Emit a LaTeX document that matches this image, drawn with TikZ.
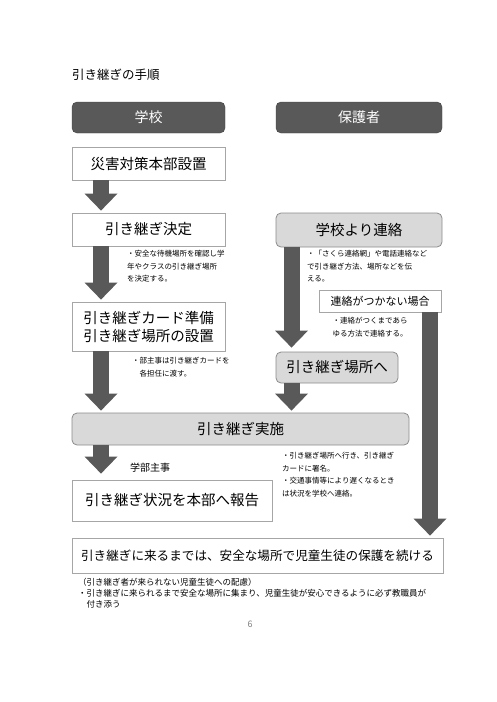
\documentclass[tikz,border=0pt]{standalone}
\usepackage{fontspec}
\setmainfont{Noto Sans CJK JP}
\usepackage{tikz}
\usetikzlibrary{arrows.meta}

\definecolor{dark}{HTML}{595959}
\definecolor{light}{HTML}{D9D9D9}
\definecolor{rim}{HTML}{A6A6A6}

\begin{document}
\begin{tikzpicture}[x=1pt, y=-1pt]
	\tikzset{head/.style = {shape=rectangle, rounded corners=5pt, draw=black!75, fill=dark, text=white, minimum height=31pt, inner sep=0pt, font=\fontsize{14}{16}\selectfont}}
	\tikzset{box/.style = {shape=rectangle, draw=rim, fill=white, line width=0.8pt, minimum height=33pt, inner sep=0pt, align=center, font=\fontsize{14.5}{18}\selectfont}}
	\tikzset{gbox/.style = {box, rounded corners=5pt, fill=light, draw=black!45}}
	\tikzset{note/.style = {anchor=north west, align=left, inner sep=0pt, font=\fontsize{7.5}{12.5}\selectfont}}
	\tikzset{edge/.style = {-{Triangle[width=33pt, length=17pt, line width=0pt]}, line width=16pt, draw=dark, shorten >=2pt}}
	\useasboundingbox (0,0) rectangle (496,702);
	\node[anchor=west, inner sep=0pt, font=\fontsize{12.5}{14}\selectfont] (title) at (72,75) {引き継ぎの手順};
	\node[head, minimum width=153pt] (a) at (148.5,117.5) {学校};
	\node[head, minimum width=166pt] (b) at (359,117.5) {保護者};
	\node[box, minimum width=153pt] (c) at (148.5,163.5) {災害対策本部設置};
	\node[box, minimum width=153pt] (d) at (148.5,229.5) {引き継ぎ決定};
	\node[gbox, minimum width=166pt, minimum height=34pt] (e) at (359,230) {学校より連絡};
	\node[box, minimum width=153pt, minimum height=49pt] (f) at (148.5,326.5) {引き継ぎカード準備\\引き継ぎ場所の設置};
	\node[box, minimum width=122pt, minimum height=22pt, font=\fontsize{11}{13}\selectfont] (g) at (380,301) {連絡がつかない場合};
	\node[gbox, minimum width=122pt, minimum height=31pt] (h) at (337,367.5) {引き継ぎ場所へ};
	\node[gbox, minimum width=337pt, minimum height=32pt] (i) at (240.5,429) {引き継ぎ実施};
	\node[box, minimum width=200pt, minimum height=41pt] (j) at (172,500.5) {引き継ぎ状況を本部へ報告};
	\node[box, minimum width=371pt, minimum height=35pt, font=\fontsize{12.6}{15}\selectfont] (k) at (257.5,555.5) {引き継ぎに来るまでは、安全な場所で児童生徒の保護を続ける};
	\coordinate (lx) at (101,0);
	\coordinate (mx) at (291.5,0);
	\coordinate (rx) at (430,0);
	\draw[edge] (c.south -| lx) -- (d.north -| lx);
	\draw[edge] (d.south -| lx) -- (f.north -| lx);
	\draw[edge] (f.south -| lx) -- (i.north -| lx);
	\draw[edge, shorten >=6pt] (i.south -| lx) -- (j.north -| lx);
	\draw[edge, shorten >=4pt] (e.south -| mx) -- (h.north -| mx);
	\draw[edge] (h.south -| mx) -- (i.north -| mx);
	\draw[edge] (g.south -| rx) -- (k.north -| rx);
	\node[note] (n1) at (127,250) {・安全な待機場所を確認し学\\年やクラスの引き継ぎ場所\\を決定する。};
	\node[note] (n2) at (307,250) {・「さくら連絡網」や電話連絡など\\で引き継ぎ方法、場所などを伝\\える。};
	\node[note, anchor=north, align=right] (n3) at (370,317) {・連絡がつくまであら\\ゆる方法で連絡する。};
	\node[note] (n4) at (132,357) {・部主事は引き継ぎカードを\\\hspace{7.5pt}各担任に渡す。};
	\node[inner sep=0pt, font=\fontsize{10}{12}\selectfont] (n5) at (150,468) {学部主事};
	\node[note] (n6) at (282,452) {・引き継ぎ場所へ行き、引き継ぎ\\カードに署名。\\・交通事情等により遅くなるとき\\は状況を学校へ連絡。};
	\node[note, font=\fontsize{8.5}{11}\selectfont] (n7) at (78,578) {（引き継ぎ者が来られない児童生徒への配慮）\\・引き継ぎに来られるまで安全な場所に集まり、児童生徒が安心できるように必ず教職員が\\\hspace{8.5pt}付き添う};
	\node[inner sep=0pt, text=black!50, font=\fontsize{9}{11}\selectfont] (pg) at (250,624) {6};
\end{tikzpicture}
\end{document}
